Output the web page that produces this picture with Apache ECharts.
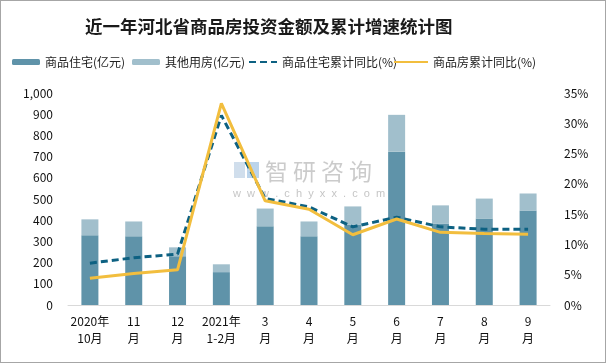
<!DOCTYPE html>
<html><head><meta charset="utf-8">
<script src="https://cdn.jsdelivr.net/npm/echarts@6/dist/echarts.min.js"></script>
<style>html,body{margin:0;padding:0;background:#fff}#c{width:604px;height:361px;border:1px solid #a6a6a6}</style>
</head><body><div id="c"></div>
<script>
var categories = ['2020年\n10月','11\n月','12\n月','2021年\n1-2月','3\n月','4\n月','5\n月','6\n月','7\n月','8\n月','9\n月'];
var residential = [329, 324, 230, 155, 371, 324, 380, 723, 385, 408, 446];
var otherUse = [75, 70, 42, 37, 84, 70, 85, 174, 85, 94, 80];
var residentialYoY = [6.9, 7.8, 8.4, 31.3, 17.6, 16.2, 12.9, 14.5, 12.9, 12.5, 12.5];
var totalYoY = [4.4, 5.2, 5.8, 33.3, 17.2, 15.8, 11.6, 14.2, 12.0, 11.8, 11.7];
var leftTicks = {min: 0, max: 1000, interval: 100};
var rightTicks = {min: 0, max: 35, interval: 5};

var names = ['商品住宅(亿元)','其他用房(亿元)','商品住宅累计同比(%)','商品房累计同比(%)'];
var legendLefts = [6, 126, 242, 387];
var legends = names.map(function(n, i){
  var l = {data:[n], left: legendLefts[i], top: 50, itemWidth: (i===3?34:28), itemHeight: 6, itemGap: 4,
    textStyle:{fontSize:12, color:'#222', fontFamily:'Noto Sans CJK SC'}};
  if (i >= 2) l.itemStyle = {opacity:0};
  return l;
});
var wm = ['智','研','咨','询'].map(function(ch, i){
  return {type:'text', left:264 + i*28, top:159, z:0, style:{text:ch, fontSize:23, fill:'rgba(140,140,140,0.45)', fontFamily:'Noto Sans CJK SC'}};
});
var chart = echarts.init(document.getElementById('c'));
chart.setOption({
  animation:false,
  textStyle:{fontFamily:'Noto Sans CJK SC'},
  title:{text:'近一年河北省商品房投资金额及累计增速统计图', left:79, top:12,
    textStyle:{fontSize:17.5, fontWeight:'bold', color:'#1a1a1a', fontFamily:'Noto Sans CJK SC'}},
  legend: legends,
  graphic:wm.concat([
    {type:'rect', left:233, top:161, z:0, shape:{width:11, height:16}, style:{fill:'rgba(170,195,220,0.55)'}},
    {type:'rect', left:246, top:161, z:0, shape:{width:12, height:16}, style:{fill:'rgba(120,170,215,0.5)'}},
    {type:'text', left:232, top:187, z:0, style:{text:'w  w  w  .  c  h  y  x  x  .  c  o  m', fontSize:11, fill:'rgba(140,140,140,0.5)'}}
  ]),
  grid:{left:67, right:55, top:92, bottom:57, containLabel:false},
  xAxis:{type:'category', data:categories,
    axisLine:{lineStyle:{color:'#d9d9d9', width:1}}, axisTick:{show:false},
    axisLabel:{fontSize:12, color:'#111', lineHeight:17, margin:8, interval:0}},
  yAxis:[
    {type:'value', min:leftTicks.min, max:leftTicks.max, interval:leftTicks.interval,
      splitLine:{show:false}, axisLine:{show:false}, axisTick:{show:false},
      axisLabel:{fontSize:12, color:'#111', margin:15, formatter:function(v){return v.toLocaleString('en-US');}}},
    {type:'value', min:rightTicks.min, max:rightTicks.max, interval:rightTicks.interval,
      splitLine:{show:false}, axisLine:{show:false}, axisTick:{show:false},
      axisLabel:{fontSize:12, color:'#111', margin:14, formatter:'{value}%'}}
  ],
  series:[
    {name:names[0], type:'bar', stack:'a', data:residential, barWidth:17, itemStyle:{color:'#5f93a9'}},
    {name:names[1], type:'bar', stack:'a', data:otherUse, barWidth:17, itemStyle:{color:'#a1bfcc'}},
    {name:names[2], type:'line', yAxisIndex:1, data:residentialYoY, symbol:'none',
      lineStyle:{color:'#0d6182', width:3, type:[7,4]}, itemStyle:{color:'#0d6182'}, z:3},
    {name:names[3], type:'line', yAxisIndex:1, data:totalYoY, symbol:'none',
      lineStyle:{color:'#f2be3e', width:3}, itemStyle:{color:'#f2be3e'}, z:4}
  ]
});
</script></body></html>
